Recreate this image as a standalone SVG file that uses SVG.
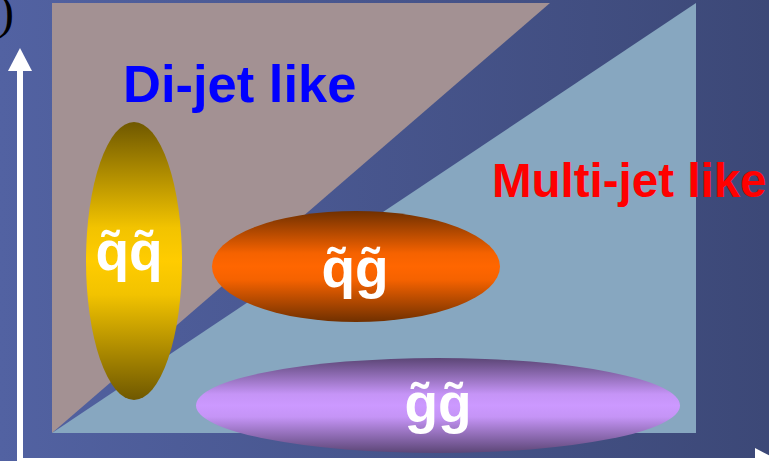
<svg xmlns="http://www.w3.org/2000/svg" width="769" height="461" viewBox="0 0 769 461">
<defs>
<linearGradient id="bg" x1="0" y1="0" x2="1" y2="0">
<stop offset="0" stop-color="#5262a2"/>
<stop offset="1" stop-color="#3c4877"/>
</linearGradient>
<linearGradient id="gy" x1="0" y1="0" x2="0" y2="1">
<stop offset="0" stop-color="#6f5800"/>
<stop offset="0.38" stop-color="#f2c300"/>
<stop offset="0.5" stop-color="#ffcc00"/>
<stop offset="0.62" stop-color="#f2c300"/>
<stop offset="1" stop-color="#6f5800"/>
</linearGradient>
<linearGradient id="go" x1="0" y1="0" x2="0" y2="1">
<stop offset="0" stop-color="#703000"/>
<stop offset="0.38" stop-color="#f56200"/>
<stop offset="0.5" stop-color="#ff6600"/>
<stop offset="0.62" stop-color="#f56200"/>
<stop offset="1" stop-color="#703000"/>
</linearGradient>
<linearGradient id="gp" x1="0" y1="0" x2="0" y2="1">
<stop offset="0" stop-color="#5c4676"/>
<stop offset="0.38" stop-color="#c594f6"/>
<stop offset="0.5" stop-color="#cc99ff"/>
<stop offset="0.62" stop-color="#c594f6"/>
<stop offset="1" stop-color="#5c4676"/>
</linearGradient>
<style>
.lbl{font-family:"Liberation Sans",Arial,sans-serif;font-weight:bold;fill:#ffffff;text-anchor:middle}
.reg{font-family:"Liberation Sans",Arial,sans-serif;font-weight:bold}
</style>
</defs>
<rect x="0" y="0" width="769" height="461" fill="url(#bg)"/>
<text x="-2" y="28" font-family="Liberation Serif,serif" font-size="48" fill="#000000">)</text>
<g id="regions">
<polygon points="52,3 550,3 52,433" fill="#a39193"/>
<polygon points="696,3 696,433 52,433" fill="#87a7c0"/>
</g>
<g id="connectors" fill="#ffffff">
<rect x="17" y="68" width="6" height="393"/>
<polygon points="20,48 32,71 8,71"/>
<rect x="17" y="458" width="745" height="4"/>
<polygon points="755,448 778,460 755,472"/>
</g>
<text class="reg" x="123" y="102" font-size="52.5" fill="#0000ff">Di-jet like</text>
<text class="reg" x="492" y="197" font-size="47.5" fill="#ff0000">Multi-jet like</text>
<g id="qq">
<ellipse cx="134" cy="261" rx="48" ry="139" fill="url(#gy)"/>
<text class="lbl" x="129" y="270" font-size="55">q̃q̃</text>
</g>
<g id="qg">
<ellipse cx="356" cy="266.5" rx="144" ry="55.5" fill="url(#go)"/>
<text class="lbl" x="355" y="287" font-size="55">q̃g̃</text>
</g>
<g id="gg">
<ellipse cx="438" cy="405.5" rx="242" ry="47.5" fill="url(#gp)"/>
<text class="lbl" x="438" y="422" font-size="55">g̃g̃</text>
</g>
</svg>
